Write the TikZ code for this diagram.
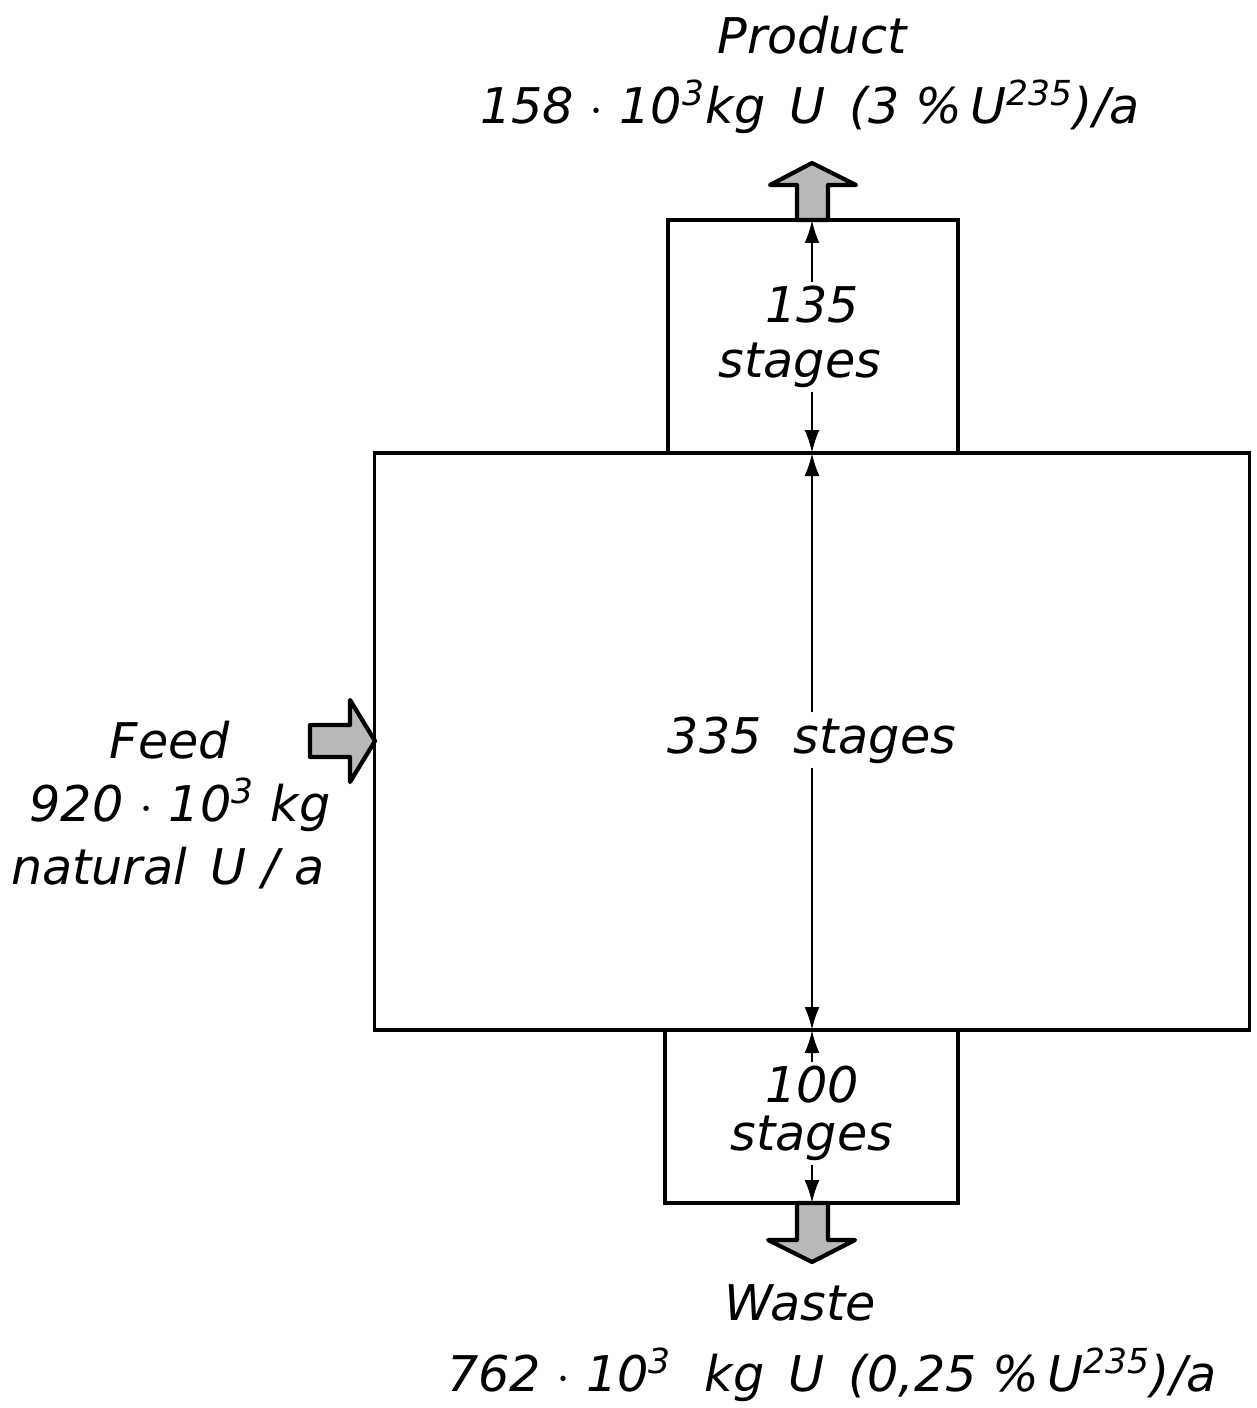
\documentclass[tikz,border=0pt]{standalone}
\usepackage{fontspec}
\setmainfont{DejaVu Sans}
\usepackage{tikz}
\usetikzlibrary{arrows.meta, positioning}

\tikzset{
  stagebox/.style={draw, line width=1.1pt, inner sep=0pt, outer sep=0pt},
  dimline/.style={line width=0.7pt, -{Latex[length=2.3mm,width=1.5mm]}},
  flowarrow/.style={draw, line width=1.2pt, fill=gray!55, line join=round},
  lbl/.style={font=\fontsize{14}{16}\selectfont\itshape, inner sep=1pt}
}

\begin{document}
\begin{tikzpicture}[x=0.1mm, y=-0.1mm]
    \useasboundingbox (0,0) rectangle (1256,1408);
    % cascade sections
    \node[stagebox, minimum width=8.75cm, minimum height=5.77cm] (mainbox) at (812,741.5) {};
    \node[stagebox, minimum width=2.9cm, minimum height=2.33cm] (topbox) at (813,336.5) {};
    \node[stagebox, minimum width=2.93cm, minimum height=1.73cm] (botbox) at (811.5,1116.5) {};
    % stage counts
    \node[lbl] (top135) at (812,305) {135};
    \node[lbl] (topstages) at (800,365) {stages};
    \node[lbl, fill=white] (mainstages) at (812,740) {335\,\, stages};
    \node[lbl] (bot100) at (812,1085) {100};
    \node[lbl] (botstages) at (812,1138) {stages};
    \coordinate (topdim) at (812,220);
    \coordinate (midtop) at (812,453);
    \coordinate (midbot) at (812,1030);
    \coordinate (botdim) at (812,1203);
    \draw[dimline] (top135.north) -- (topdim);
    \draw[dimline] (topstages.south -| midtop) -- (midtop);
    \draw[dimline] (mainstages.north) -- (midtop);
    \draw[dimline] (mainstages.south) -- (midbot);
    \draw[dimline] (bot100.north) -- (midbot);
    \draw[dimline] (botstages.south) -- (botdim);
    % big flow arrows
    \path[flowarrow] (797,220) -- (797,185) -- (770,185) -- (812,163) -- (856,185) -- (828,185) -- (828,220) -- cycle;
    \path[flowarrow] (797,1203) -- (797,1240) -- (768,1240) -- (812,1262) -- (855,1240) -- (828,1240) -- (828,1203) -- cycle;
    \path[flowarrow] (375,741) -- (350,700) -- (350,725) -- (310,725) -- (310,757) -- (350,757) -- (350,782) -- cycle;
    % streams
    \node[lbl] (product) at (812,35) {Product};
    \node[lbl] (productamt) at (810,107) {158 $\cdot$ 10\textsuperscript{3}kg\, U\, (3 \%\,U\textsuperscript{235})/a};
    \node[lbl] (feed) at (170,740) {Feed};
    \node[lbl] (feedamt) at (180,805) {920 $\cdot$ 10\textsuperscript{3} kg};
    \node[lbl] (feednat) at (168,868) {natural\, U / a};
    \node[lbl] (waste) at (800,1303) {Waste};
    \node[lbl] (wasteamt) at (832,1375) {762 $\cdot$ 10\textsuperscript{3}\,\, kg\, U\, (0,25 \%\,U\textsuperscript{235})/a};
\end{tikzpicture}
\end{document}
